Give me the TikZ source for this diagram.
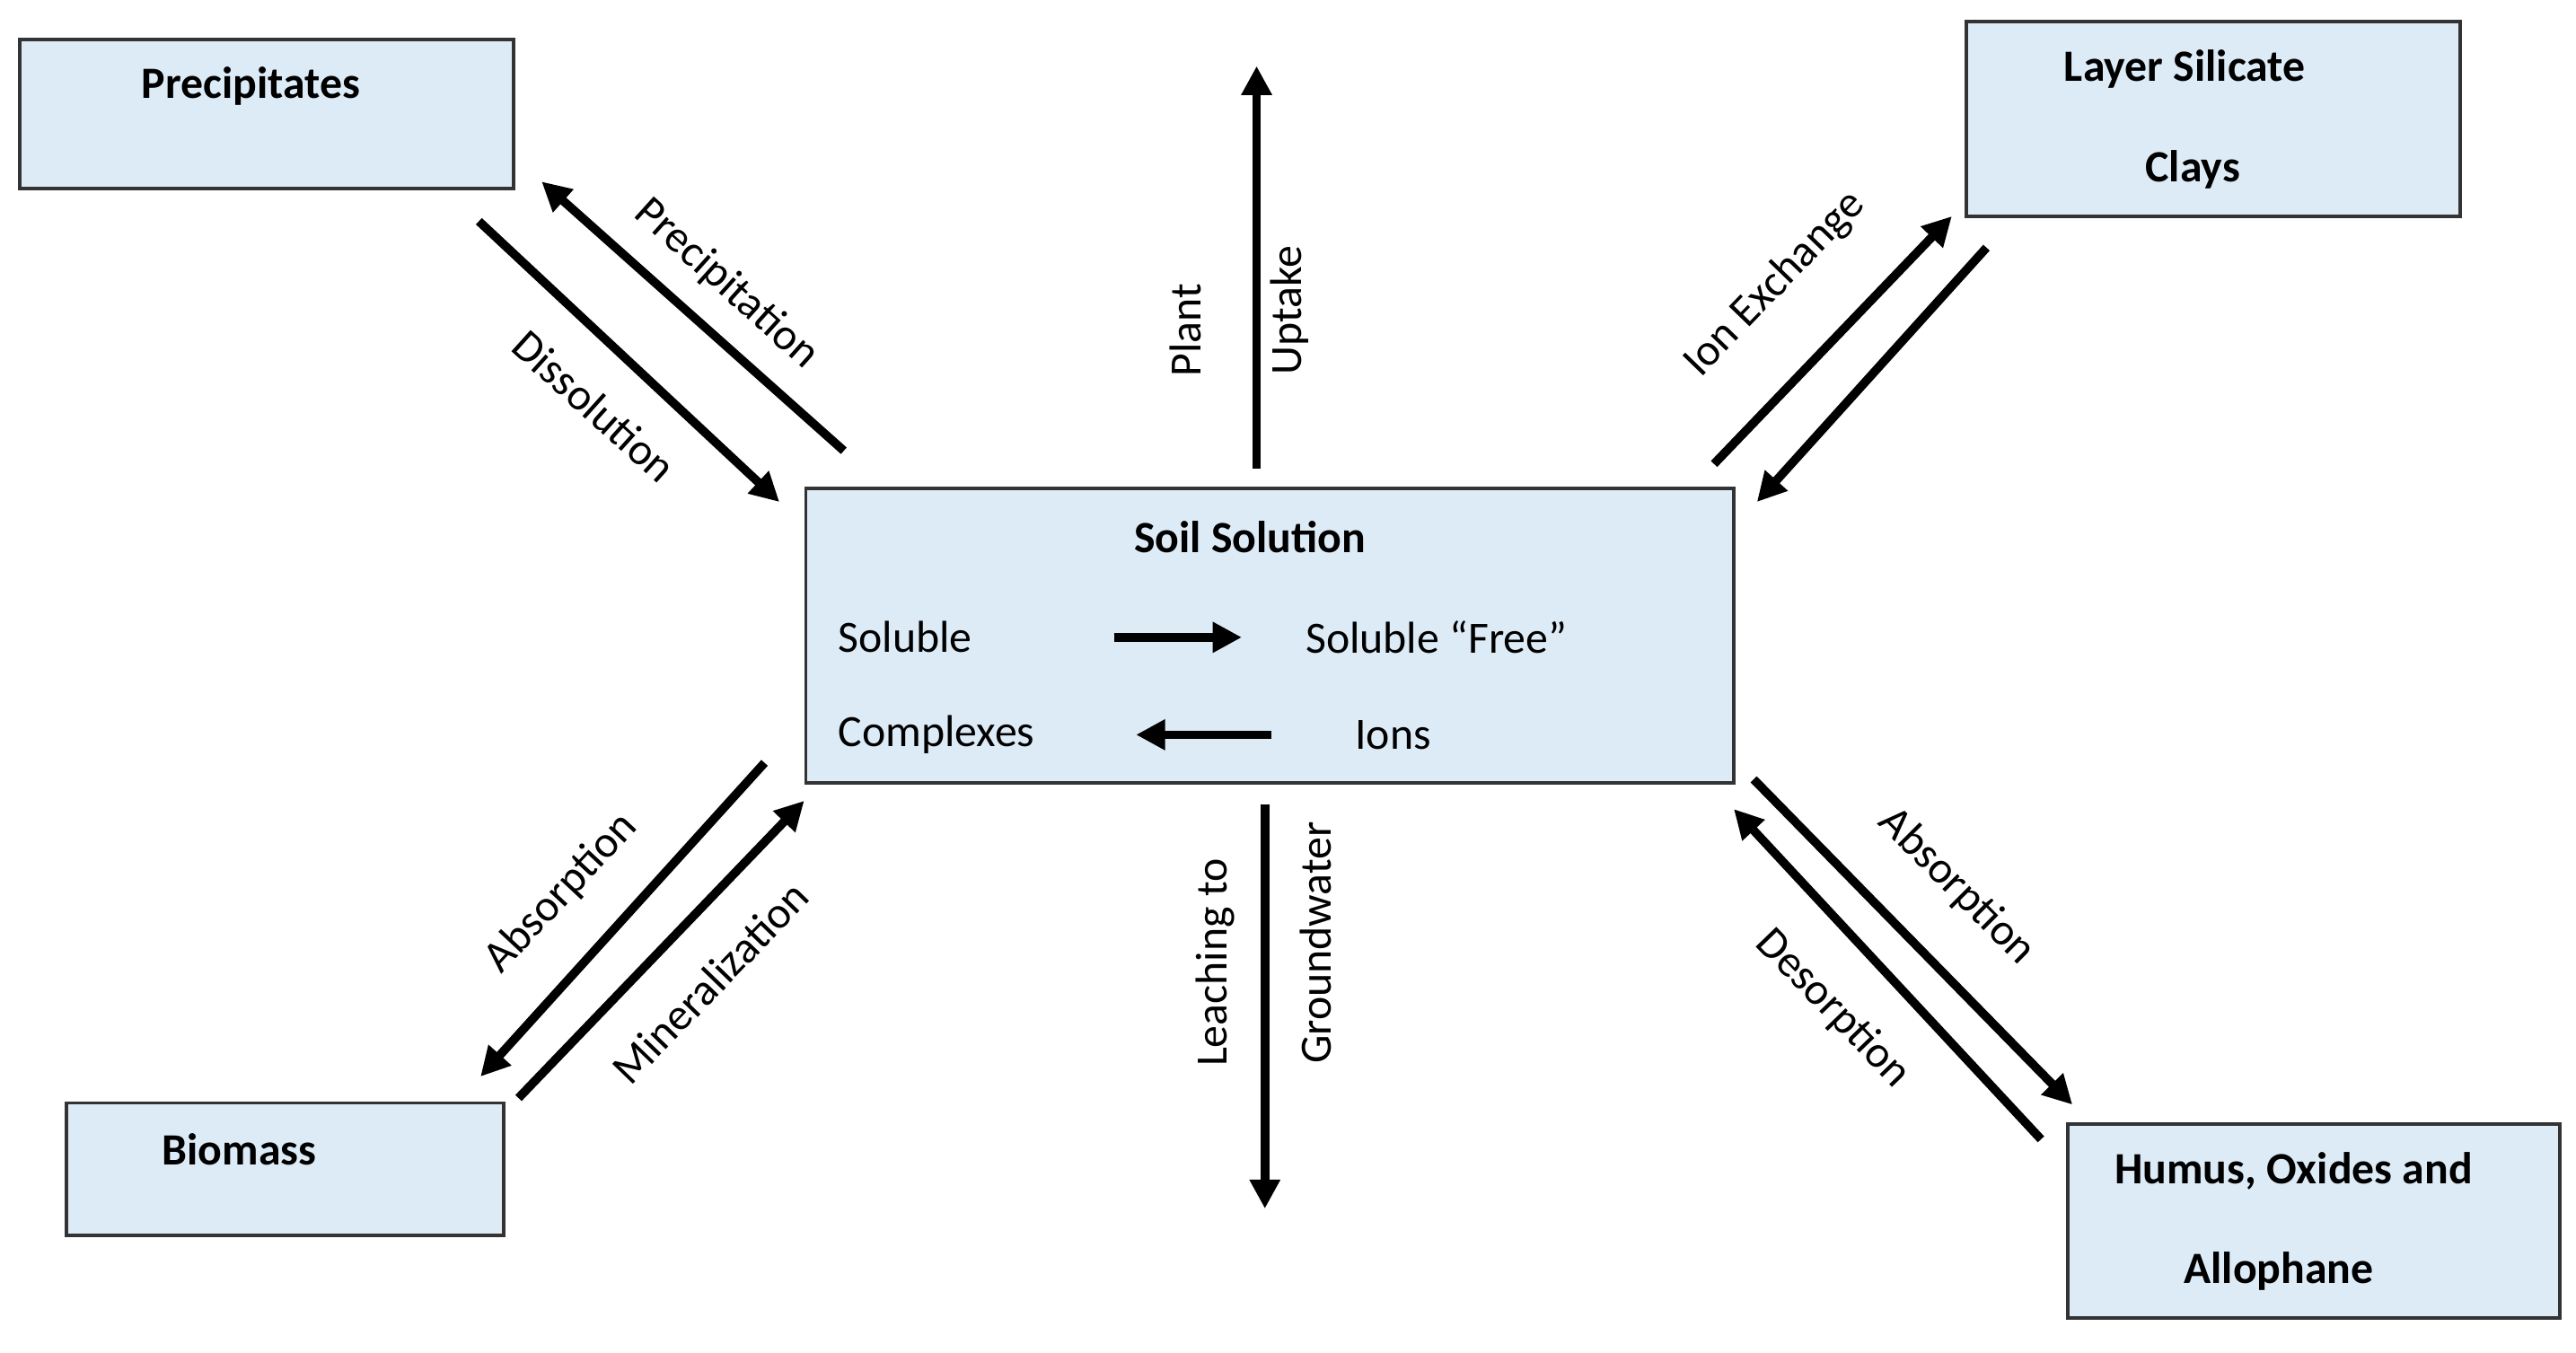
\documentclass[tikz,border=0pt]{standalone}
\usepackage{fontspec}
\setmainfont{Carlito}
\usetikzlibrary{arrows.meta}
\definecolor{boxblue}{RGB}{221,235,247}
\begin{document}
\begin{tikzpicture}[x=0.01cm,y=-0.01cm,
    box/.style={draw=black!80,fill=boxblue,line width=0.6pt,inner sep=0pt},
    txt/.style={font=\fontsize{7.7}{9}\selectfont,inner sep=0pt},
    bold/.style={txt,font=\fontsize{7.7}{9}\selectfont\bfseries},
    flow/.style={line width=1.5pt,-{Triangle[length=5pt,width=5pt]}}]
    \useasboundingbox (0,0) rectangle (1560,819);

    % boxes
    \draw[box] (12,24) rectangle (311,114);
    \node[bold] (prec) at (152,52) {Precipitates};
    \draw[box] (1191,13) rectangle (1490,131);
    \node[bold] (clay1) at (1323,42) {Layer Silicate};
    \node[bold] (clay2) at (1328,103) {Clays};
    \draw[box] (488,296) rectangle (1050,474);
    \node[bold] (soil) at (757,325) {Soil Solution};
    \draw[box] (40,668) rectangle (305,748);
    \node[bold] (bio) at (145,696) {Biomass};
    \draw[box] (1252,681) rectangle (1550,798);
    \node[bold] (hum1) at (1389,709) {Humus, Oxides and};
    \node[bold] (hum2) at (1380,770) {Allophane};

    % inside the soil solution
    \node[txt,anchor=west] (sol) at (507,386) {Soluble};
    \node[txt,anchor=west] (free) at (790,386) {Soluble “Free”};
    \node[txt,anchor=west] (cpx) at (507,445) {Complexes};
    \node[txt,anchor=west] (ion) at (820,445) {Ions};
    \coordinate (s1) at (675,386); \coordinate (s2) at (752,386);
    \coordinate (c1) at (770,445); \coordinate (c2) at (688,445);
    \draw[flow] (s1) -- (s2);
    \draw[flow] (c1) -- (c2);

    % connectors
    \coordinate (u1) at (761,284); \coordinate (u2) at (761,40);
    \coordinate (l1) at (766,487); \coordinate (l2) at (766,732);
    \coordinate (d1) at (290,134); \coordinate (d2) at (472,304);
    \coordinate (p1) at (511,273); \coordinate (p2) at (328,110);
    \coordinate (i1) at (1038,281); \coordinate (i2) at (1182,131);
    \coordinate (i3) at (1203,150); \coordinate (i4) at (1064,304);
    \coordinate (a1) at (463,462); \coordinate (a2) at (291,652);
    \coordinate (m1) at (314,665); \coordinate (m2) at (487,485);
    \coordinate (h1) at (1062,472); \coordinate (h2) at (1255,669);
    \coordinate (h3) at (1236,690); \coordinate (h4) at (1050,490);
    \draw[flow] (u1) -- (u2);
    \draw[flow] (l1) -- (l2);
    \draw[flow] (d1) -- (d2);
    \draw[flow] (p1) -- (p2);
    \draw[flow] (i1) -- (i2);
    \draw[flow] (i3) -- (i4);
    \draw[flow] (a1) -- (a2);
    \draw[flow] (m1) -- (m2);
    \draw[flow] (h1) -- (h2);
    \draw[flow] (h3) -- (h4);

    % labels
    \node[txt,rotate=90] (plant) at (718,200) {Plant};
    \node[txt,rotate=90] (upt) at (781,188) {Uptake};
    \node[txt,rotate=90] (leach) at (736,583) {Leaching to};
    \node[txt,rotate=90] (gw) at (797,571) {Groundwater};
    \node[txt,rotate=-42] (precn) at (440,172) {Precipitation};
    \node[txt,rotate=-42] (diss) at (360,246) {Dissolution};
    \node[txt,rotate=46] (iex) at (1075,172) {Ion Exchange};
    \node[txt,rotate=47] (abs1) at (340,541) {Absorption};
    \node[txt,rotate=46] (min) at (430,595) {Mineralization};
    \node[txt,rotate=-45] (abs2) at (1185,537) {Absorption};
    \node[txt,rotate=-46] (des) at (1110,611) {Desorption};
\end{tikzpicture}
\end{document}
